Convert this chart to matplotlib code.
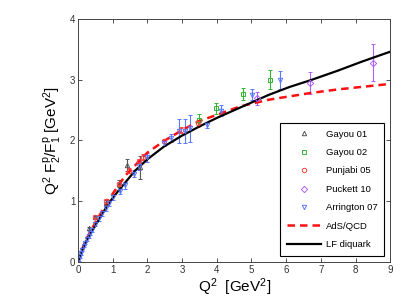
import matplotlib
matplotlib.use("Agg")
import matplotlib.pyplot as plt
from matplotlib.lines import Line2D

plt.rcParams["font.family"] = ["Liberation Sans", "DejaVu Sans"]
plt.rcParams["mathtext.fontset"] = "custom"
plt.rcParams["mathtext.rm"] = "Liberation Sans"
plt.rcParams["mathtext.it"] = "Liberation Sans"

# model curves
lf_x = [0, 0.1, 0.25, 0.5, 0.875, 1.16, 1.64, 2.0, 2.48, 3.0, 3.5, 4.0, 4.67, 5.5, 6.1, 6.7, 7.5, 8.2, 9.0]
lf_y = [0, 0.17, 0.36, 0.60, 0.96, 1.17, 1.50, 1.69, 1.90, 2.08, 2.23, 2.37, 2.54, 2.75, 2.88, 2.99, 3.15, 3.30, 3.46]

ads_x = [0, 0.1, 0.25, 0.5, 0.875, 1.36, 2.0, 2.48, 3.0, 3.5, 3.9, 4.67, 5.5, 6.7, 7.5, 9.0]
ads_y = [0, 0.19, 0.39, 0.65, 1.02, 1.42, 1.80, 1.99, 2.17, 2.32, 2.40, 2.56, 2.67, 2.78, 2.84, 2.93]

# data sets
gayou01_x = [0.32, 0.49, 0.79, 1.18, 1.42, 1.79]
gayou01_y = [0.55, 0.74, 0.97, 1.29, 1.60, 1.56]
gayou01_e = [0.03, 0.03, 0.05, 0.06, 0.10, 0.19]

gayou02_x = [3.49, 3.97, 4.75, 5.54]
gayou02_y = [2.34, 2.53, 2.77, 3.00]
gayou02_e = [0.10, 0.09, 0.10, 0.16]

punjabi05_x = [0.49, 0.79, 1.18, 1.48, 1.77, 1.88, 2.47, 2.97, 3.47]
punjabi05_y = [0.74, 1.00, 1.29, 1.50, 1.66, 1.73, 1.99, 2.17, 2.28]
punjabi05_e = [0.02, 0.03, 0.03, 0.04, 0.04, 0.05, 0.04, 0.05, 0.06]

puckett10_x = [5.17, 6.70, 8.49]
puckett10_y = [2.69, 2.94, 3.28]
puckett10_e = [0.10, 0.18, 0.31]

arrington07_x = [0.02, 0.05, 0.08, 0.12, 0.16, 0.2, 0.25, 0.3, 0.35, 0.4, 0.5, 0.6, 0.7,
                 0.8, 0.9, 1.0, 1.2, 1.36, 1.6, 1.75, 2.0, 2.48, 2.68, 2.9, 3.09, 3.23,
                 3.71, 4.11, 5.01, 5.83]
arrington07_y = [0.04, 0.09, 0.14, 0.20, 0.26, 0.31, 0.37, 0.43, 0.48, 0.53, 0.62, 0.72, 0.80,
                 0.88, 0.97, 1.07, 1.17, 1.26, 1.45, 1.58, 1.72, 1.96, 2.04, 2.15, 2.16, 2.20,
                 2.26, 2.49, 2.75, 3.00]
arrington07_e = [0.02, 0.02, 0.02, 0.02, 0.02, 0.02, 0.03, 0.03, 0.03, 0.03, 0.03, 0.04, 0.04,
                 0.04, 0.05, 0.05, 0.05, 0.06, 0.06, 0.06, 0.07, 0.05, 0.07, 0.20, 0.20, 0.22,
                 0.05, 0.09, 0.09, 0.15]

sets = [
    ("Gayou 01", gayou01_x, gayou01_y, gayou01_e, "^", "#555555"),
    ("Gayou 02", gayou02_x, gayou02_y, gayou02_e, "s", "#33b533"),
    ("Punjabi 05", punjabi05_x, punjabi05_y, punjabi05_e, "o", "#ff4040"),
    ("Puckett 10", puckett10_x, puckett10_y, puckett10_e, "D", "#b060ff"),
    ("Arrington 07", arrington07_x, arrington07_y, arrington07_e, "v", "#5a78ff"),
]

fig = plt.figure(figsize=(4.09, 3.0), dpi=100)
ax = fig.add_axes([0.191, 0.127, 0.763, 0.81])

handles = []
for name, x, y, e, m, c in sets:
    ax.errorbar(x, y, yerr=e, fmt=m, color=c, ms=3.2, mfc="none", mew=0.7,
                elinewidth=0.8, capsize=1.5, capthick=0.7, ls="none")
    handles.append(Line2D([], [], ls="none", marker=m, ms=3.2, mfc="none", mew=0.7,
                          color=c, label=name))

ads_line, = ax.plot(ads_x, ads_y, "--", color="#ff1010", lw=1.8, dashes=(3, 2), label="AdS/QCD")
lf_line, = ax.plot(lf_x, lf_y, "-", color="black", lw=1.6, label="LF diquark")
handles += [ads_line, lf_line]

ax.set_xlim(0, 9)
ax.set_ylim(0, 4)
ax.set_xticks(range(0, 10))
ax.set_yticks(range(0, 5))
ax.tick_params(direction="in", top=True, right=True, length=3, width=0.6,
               labelsize=7, colors="#333333", pad=2)
for s in ax.spines.values():
    s.set_linewidth(0.7)
    s.set_color("#444444")

ax.set_xlabel(r"Q$^2$  [GeV$^2$]", fontsize=11, labelpad=1)
ax.set_ylabel(r"Q$^2$ F$_2^\mathrm{p}$/F$_1^\mathrm{p}$ [GeV$^2$]", fontsize=11, labelpad=4)

leg = ax.legend(handles=handles, loc="lower right", bbox_to_anchor=(0.98, 0.025), fontsize=6.8,
                frameon=True, fancybox=False, edgecolor="black", framealpha=1,
                handlelength=3.6, labelspacing=1.0, borderpad=0.7, handletextpad=0.5,
                borderaxespad=0)
leg.get_frame().set_linewidth(0.8)

fig.savefig("out.png", dpi=100)
